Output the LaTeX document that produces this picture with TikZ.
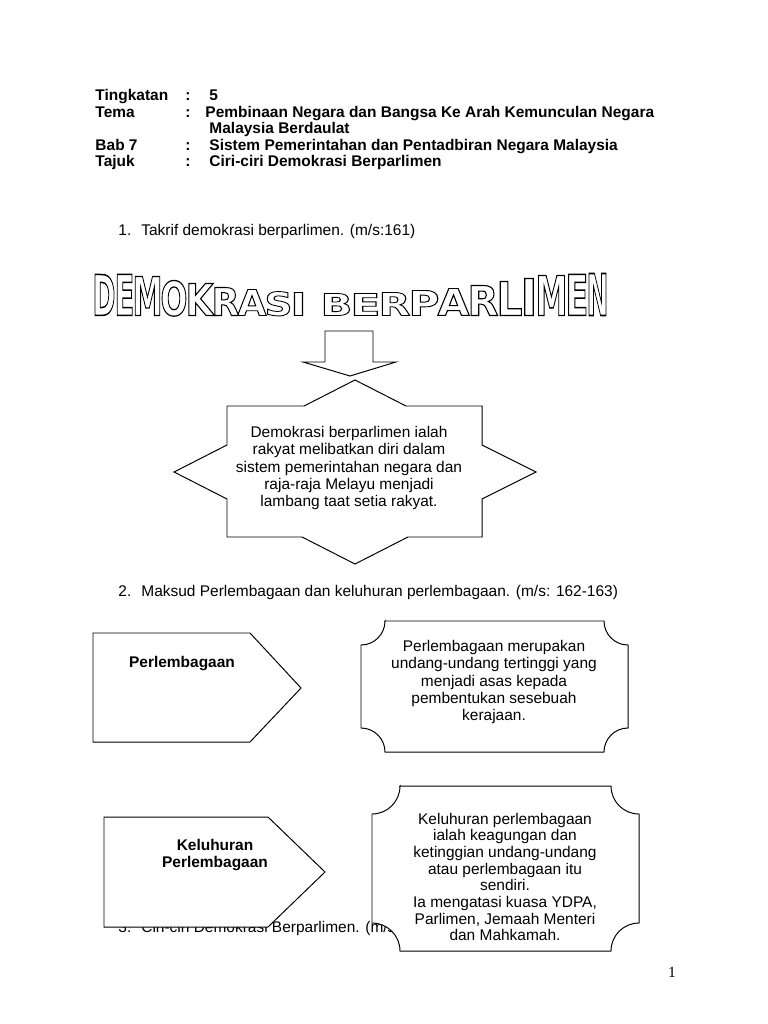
\documentclass[tikz,border=0pt]{standalone}
\usepackage{fontspec}
\setmainfont{Liberation Sans}
\newfontfamily\pagefont{Liberation Serif}
\newfontfamily\artfont{DejaVu Sans}
\newcommand{\hollow}[1]{\special{pdf:literal direct 1 Tr 0.8 w}#1\special{pdf:literal direct 0 Tr}}

\begin{document}
\begin{tikzpicture}[x=0.025cm, y=-0.025cm, line width=0.7pt,
    every node/.style={inner sep=0pt, font=\fontsize{11}{12.2}\selectfont},
    hd/.style={anchor=base west, font=\fontsize{11}{12.2}\selectfont\bfseries},
    item/.style={anchor=base west},
    para/.style={align=center, font=\fontsize{11}{12.3}\selectfont},
    tag/.style={align=center, font=\fontsize{11}{12.2}\selectfont\bfseries}]
\useasboundingbox (0,0) rectangle (768,1024);

% kepala
\node[hd] (tk) at (95,101) {Tingkatan};
\node[hd] (tkc) at (185,101) {:};
\node[hd] (tkv) at (209,101) {5};
\node[hd] (tm) at (95,118) {Tema};
\node[hd] (tmc) at (185,118) {:};
\node[hd] (tmv) at (205,118) {Pembinaan Negara dan Bangsa Ke Arah Kemunculan Negara};
\node[hd] (tmv2) at (209,134) {Malaysia Berdaulat};
\node[hd] (bb) at (95,151) {Bab 7};
\node[hd] (bbc) at (185,151) {:};
\node[hd] (bbv) at (209,151) {Sistem Pemerintahan dan Pentadbiran Negara Malaysia};
\node[hd] (tj) at (95,167) {Tajuk};
\node[hd] (tjc) at (185,167) {:};
\node[hd] (tjv) at (209,167) {Ciri-ciri Demokrasi Berparlimen};

% soalan
\node[item] (q1) at (118,236) {1.\hspace{2.5mm}Takrif demokrasi berparlimen. (m/s:161)};
\node[item] (q2) at (118,596) {2.\hspace{2.5mm}Maksud Perlembagaan dan keluhuran perlembagaan. (m/s: 162-163)};
\node[item] (q3) at (118,932) {3.\hspace{2.5mm}Ciri-ciri Demokrasi Berparlimen. (m/s};

% tajuk berongga
\foreach \lt/\xl/\bw/\tp [count=\k, evaluate=\bw as \bwcm using \bw*0.025,
    evaluate=\tp as \bhcm using (315-\tp)*0.025] in
    {D/92/23/274, E/114/20/274, M/132/30/276, O/160/27/280, K/185/28/283,
     R/211/28/287, A/237/29/289, S/264/28/291, I/290/16/292,
     B/320/32/293, E/350/30/293, R/378/32/292, P/408/31/290, A/437/32/288,
     R/467/31/285, L/496/26/281, I/520/17/278, M/535/32/275, E/565/23/274,
     N/586/22/273}
  \node[anchor=north west] (wa\k) at (\xl,\tp)
    {\resizebox{\bwcm cm}{\bhcm cm}{\fontsize{30}{30}\selectfont\artfont\bfseries\hollow{\lt}}};

% anak panah
\draw[fill=white] (325,331) -- (373,331) -- (373,362) -- (396,362) -- (350,376)
  -- (303,362) -- (325,362) -- cycle;

% bintang
\draw[fill=white] (227,406) -- (304,406) -- (355,380) -- (406,406) -- (482,406)
  -- (482,445) -- (536,472) -- (482,499) -- (482,537) -- (408,537) -- (355,564)
  -- (302,537) -- (227,537) -- (227,499) -- (174,472) -- (227,445) -- cycle;
\node[para] (takrif) at (349,468) {Demokrasi berparlimen ialah\\rakyat melibatkan diri dalam\\sistem pemerintahan negara dan\\raja-raja Melayu menjadi\\lambang taat setia rakyat.};

% perlembagaan
\draw[fill=white] (93,633) -- (250,633) -- (301,688) -- (250,742) -- (93,742) -- cycle;
\node[tag] (pl) at (182,664) {Perlembagaan};
\draw[fill=white] (385,621) -- (604,621) arc[start angle=180, end angle=270, radius=0.6cm]
  -- (628,728) arc[start angle=90, end angle=180, radius=0.6cm]
  -- (385,752) arc[start angle=0, end angle=90, radius=0.6cm]
  -- (361,645) arc[start angle=270, end angle=360, radius=0.6cm] -- cycle;
\node[para] (plmaksud) at (494,682) {Perlembagaan merupakan\\undang-undang tertinggi yang\\menjadi asas kepada\\pembentukan sesebuah\\kerajaan.};

% keluhuran
\draw[fill=white] (104,817) -- (268,817) -- (325,872) -- (268,927) -- (104,927) -- cycle;
\node[tag] (kl) at (215,855) {Keluhuran\\Perlembagaan};
\draw[fill=white] (400,786) -- (611,786) arc[start angle=180, end angle=270, radius=0.7cm]
  -- (639,923) arc[start angle=90, end angle=180, radius=0.7cm]
  -- (400,951) arc[start angle=0, end angle=90, radius=0.7cm]
  -- (372,814) arc[start angle=270, end angle=360, radius=0.7cm] -- cycle;
\node[para, font=\fontsize{11}{11.85}\selectfont] (klmaksud) at (505,877) {Keluhuran perlembagaan\\ialah keagungan dan\\ketinggian undang-undang\\atau perlembagaan itu\\sendiri.\\Ia mengatasi kuasa YDPA,\\Parlimen, Jemaah Menteri\\dan Mahkamah.};

\node[font=\pagefont\fontsize{11}{12}\selectfont] (pg) at (672,972) {1};
\end{tikzpicture}
\end{document}
